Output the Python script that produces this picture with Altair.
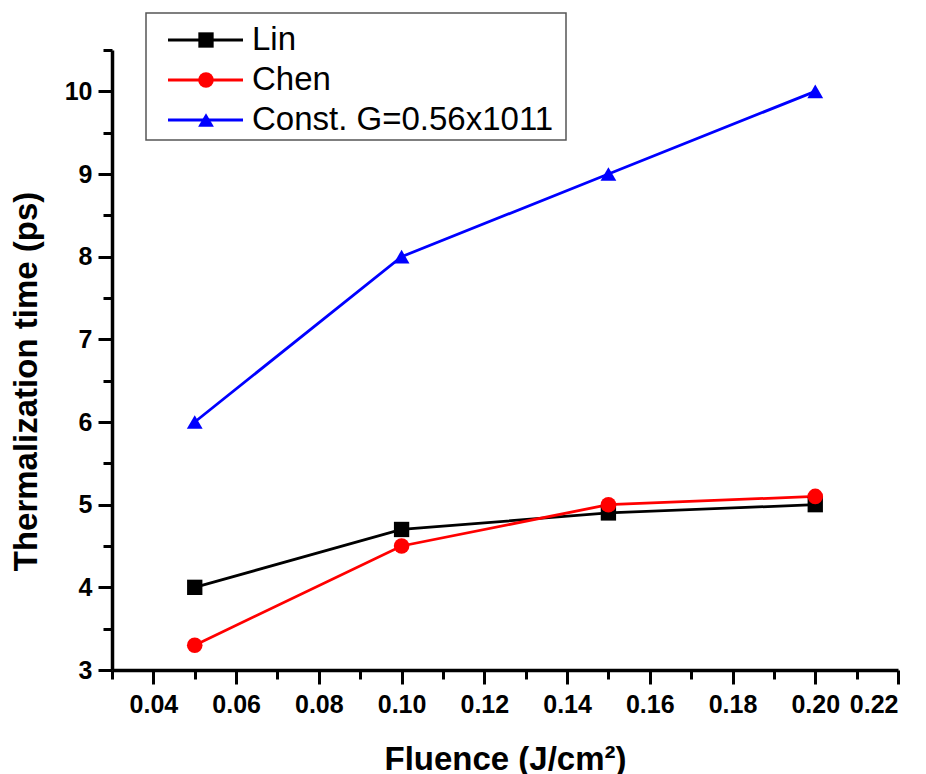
import altair as alt
import pandas as pd

# Thermalization time vs. laser fluence for three electron-phonon coupling models
fluence = [0.05, 0.10, 0.15, 0.20]
lin = [4.0, 4.7, 4.9, 5.0]
chen = [3.3, 4.5, 5.0, 5.1]
const_g = [6.0, 8.0, 9.0, 10.0]

series_names = ["Lin", "Chen", "Const. G=0.56x1011"]
series_colors = ["#000000", "#ff0000", "#0000ff"]
series_shapes = ["square", "circle", "triangle-up"]
series_sizes = [235, 250, 420]

x_major = [0.04, 0.06, 0.08, 0.10, 0.12, 0.14, 0.16, 0.18, 0.20, 0.22]
x_minor = [0.03, 0.05, 0.07, 0.09, 0.11, 0.13, 0.15, 0.17, 0.19, 0.21]
y_major = [3, 4, 5, 6, 7, 8, 9, 10]
y_minor = [3.5, 4.5, 5.5, 6.5, 7.5, 8.5, 9.5, 10.5]

rows = []
for name, vals in zip(series_names, [lin, chen, const_g]):
    for f, v in zip(fluence, vals):
        rows.append({"series": name, "fluence": f, "time": v})
df = pd.DataFrame(rows)

FONT = "Liberation Sans"
xscale = alt.Scale(domain=[0.03, 0.22], nice=False, zero=False)
yscale = alt.Scale(domain=[3, 10.5], nice=False, zero=False)
color = alt.Color("series:N", scale=alt.Scale(domain=series_names, range=series_colors), legend=None)
shape = alt.Shape("series:N", scale=alt.Scale(domain=series_names, range=series_shapes), legend=None)
size = alt.Size("series:N", scale=alt.Scale(domain=series_names, range=series_sizes), legend=None)

axis_common = dict(
    domainColor="black", domainWidth=3.5, tickColor="black", tickWidth=3,
    labelFont=FONT, labelFontWeight="bold", labelFontSize=25, labelColor="black",
    titleFont=FONT, titleFontWeight="bold", titleFontSize=33, titleColor="black",
    grid=False,
)

x_axis = alt.Axis(values=x_major, format=".2f", tickSize=14, labelPadding=8,
                  title="Fluence (J/cm²)", titleBaseline="alphabetic", titleY=99,
                  orient="bottom", **axis_common)
y_axis = alt.Axis(values=y_major, format="d", tickSize=14, labelPadding=6,
                  title="Thermalization time (ps)", titleBaseline="alphabetic",
                  titleX=-76, titleY=331, orient="left", **axis_common)

x_minor_axis = alt.Axis(values=x_minor, tickSize=9, labels=False, title=None,
                        domain=False, orient="bottom", tickColor="black", tickWidth=3, grid=False)
y_minor_axis = alt.Axis(values=y_minor, tickSize=9, labels=False, title=None,
                        domain=False, orient="left", tickColor="black", tickWidth=3, grid=False)

lines = alt.Chart(df).mark_line(strokeWidth=2.8).encode(
    x=alt.X("fluence:Q", scale=xscale, axis=x_axis),
    y=alt.Y("time:Q", scale=yscale, axis=y_axis),
    color=color,
    detail="series:N",
)

points = alt.Chart(df).mark_point(filled=True, opacity=1).encode(
    x=alt.X("fluence:Q", scale=xscale, axis=None),
    y=alt.Y("time:Q", scale=yscale, axis=None),
    color=color, shape=shape, size=size,
)

minor = alt.Chart(df).mark_point(opacity=0).encode(
    x=alt.X("fluence:Q", scale=xscale, axis=x_minor_axis),
    y=alt.Y("time:Q", scale=yscale, axis=y_minor_axis),
)

# Boxed legend in the upper-left corner: line sample, marker and label per series
leg = pd.DataFrame({"series": series_names})

leg_box = alt.Chart(pd.DataFrame({"a": [0]})).mark_rect(
    fill="white", stroke="#555555", strokeWidth=1.5
).encode(x=alt.value(34), x2=alt.value(454), y=alt.value(-37), y2=alt.value(90))

legend_parts = [leg_box]
for i, name in enumerate(series_names):
    row_y = alt.value(-10 + 40 * i)
    entry = alt.Chart(leg).transform_filter(alt.datum.series == name)
    legend_parts.append(entry.mark_rule(strokeWidth=2.8).encode(
        x=alt.value(56), x2=alt.value(131), y=row_y, color=color))
    legend_parts.append(entry.mark_point(filled=True, opacity=1).encode(
        x=alt.value(94), y=row_y, color=color, shape=shape, size=size))
    legend_parts.append(entry.mark_text(
        align="left", baseline="middle", font=FONT, fontSize=33, color="black"
    ).encode(x=alt.value(140), y=row_y, text="series:N"))

chart = alt.layer(minor, lines, points, *legend_parts).resolve_axis(
    x="independent", y="independent"
).resolve_scale(x="shared", y="shared").properties(
    width=786, height=620,
    autosize=alt.AutoSizeParams(type="none"),
    padding={"left": 112, "top": 50, "right": 28, "bottom": 104},
    background="white",
).configure_view(stroke=None)

chart.save("out.html", embed_options={"renderer": "svg", "actions": False})
